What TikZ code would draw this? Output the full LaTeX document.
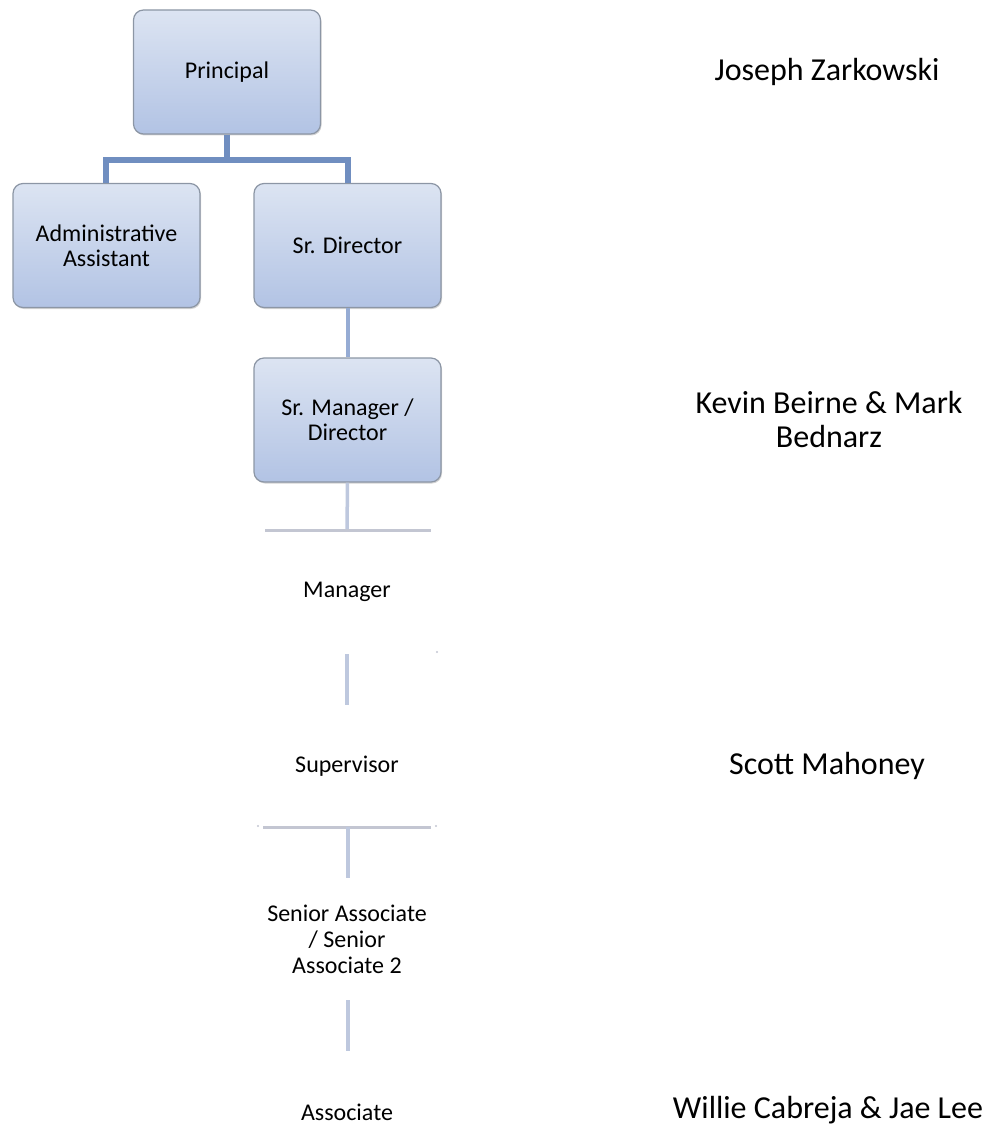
\documentclass[tikz,border=0pt]{standalone}
\usepackage{fontspec}
\setmainfont{Carlito}
\usetikzlibrary{shadows}
\definecolor{boxtop}{RGB}{220,228,242}
\definecolor{boxbot}{RGB}{178,195,228}
\definecolor{boxline}{RGB}{140,150,165}
\definecolor{conA}{RGB}{112,142,192}
\definecolor{conB}{RGB}{150,172,212}
\definecolor{conC}{RGB}{190,200,222}
\definecolor{conD}{RGB}{195,198,210}
\begin{document}
\begin{tikzpicture}[x=1pt,y=-1pt,
  orgbox/.style={draw=boxline,line width=1.2pt,rounded corners=10pt,top color=boxtop,bottom color=boxbot,
    minimum width=187pt,minimum height=124pt,align=center,font=\fontsize{24}{25}\selectfont,
    drop shadow={shadow xshift=1pt,shadow yshift=-1.5pt,opacity=0.35}},
  plain/.style={align=center,font=\fontsize{24}{26}\selectfont},
  person/.style={align=center,font=\fontsize{32}{34}\selectfont},
  conmain/.style={draw=conA,line width=6pt},
  conlight/.style={draw=conB,line width=4pt},
  confaint/.style={draw=conC,line width=3.5pt},
  conbar/.style={draw=conD,line width=3pt}]
\useasboundingbox (0,0) rectangle (988,1126);
\node[orgbox] (principal) at (227,72) {Principal};
\node[orgbox] (admin) at (106.5,245.5) {Administrative\\Assistant};
\node[orgbox] (srdir) at (347.5,245.5) {Sr. Director};
\node[orgbox] (srmgr) at (347.5,420) {Sr. Manager /\\Director};
\node[plain] (mgr) at (347,592) {Manager};
\node[plain] (sup) at (347,766) {Supervisor};
\node[plain] (sra) at (347,939) {Senior Associate\\/ Senior\\Associate 2};
\node[plain] (assoc) at (347,1112) {Associate};
\node[person] (p1) at (827,72) {Joseph Zarkowski};
\node[person] (p2) at (829,420) {Kevin Beirne \& Mark\\Bednarz};
\node[person] (p3) at (827,766) {Scott Mahoney};
\node[person] (p4) at (828,1110) {Willie Cabreja \& Jae Lee};
\coordinate (bus) at (227,160);
\coordinate (busL) at (106,160);
\coordinate (busR) at (348,160);
\draw[conmain] (principal.south) -- (bus);
\draw[conmain,line join=miter] (admin.north -| busL) -- (busL) -- (busR) -- (srdir.north -| busR);
\draw[conlight] (srdir.south) -- (srmgr.north);
\coordinate (b1) at (347,530);
\coordinate (b1L) at (265,530);
\coordinate (b1R) at (431,530);
\draw[confaint] (srmgr.south) -- (b1);
\draw[conbar] (b1L) -- (b1R);
\coordinate (v2a) at (347,654);
\coordinate (v2b) at (347,705);
\draw[confaint] (v2a) -- (v2b);
\fill[conD] (437,652) circle (1.2pt);
\coordinate (b3L) at (263,827);
\coordinate (b3R) at (431,827);
\coordinate (b3) at (348,827);
\coordinate (v3b) at (348,878);
\draw[conbar] (b3L) -- (b3R);
\draw[confaint] (b3) -- (v3b);
\fill[conD] (258,826) circle (1.2pt);
\fill[conD] (436,826) circle (1.2pt);
\coordinate (v4a) at (348,1000);
\coordinate (v4b) at (348,1051);
\draw[confaint] (v4a) -- (v4b);
\end{tikzpicture}
\end{document}
